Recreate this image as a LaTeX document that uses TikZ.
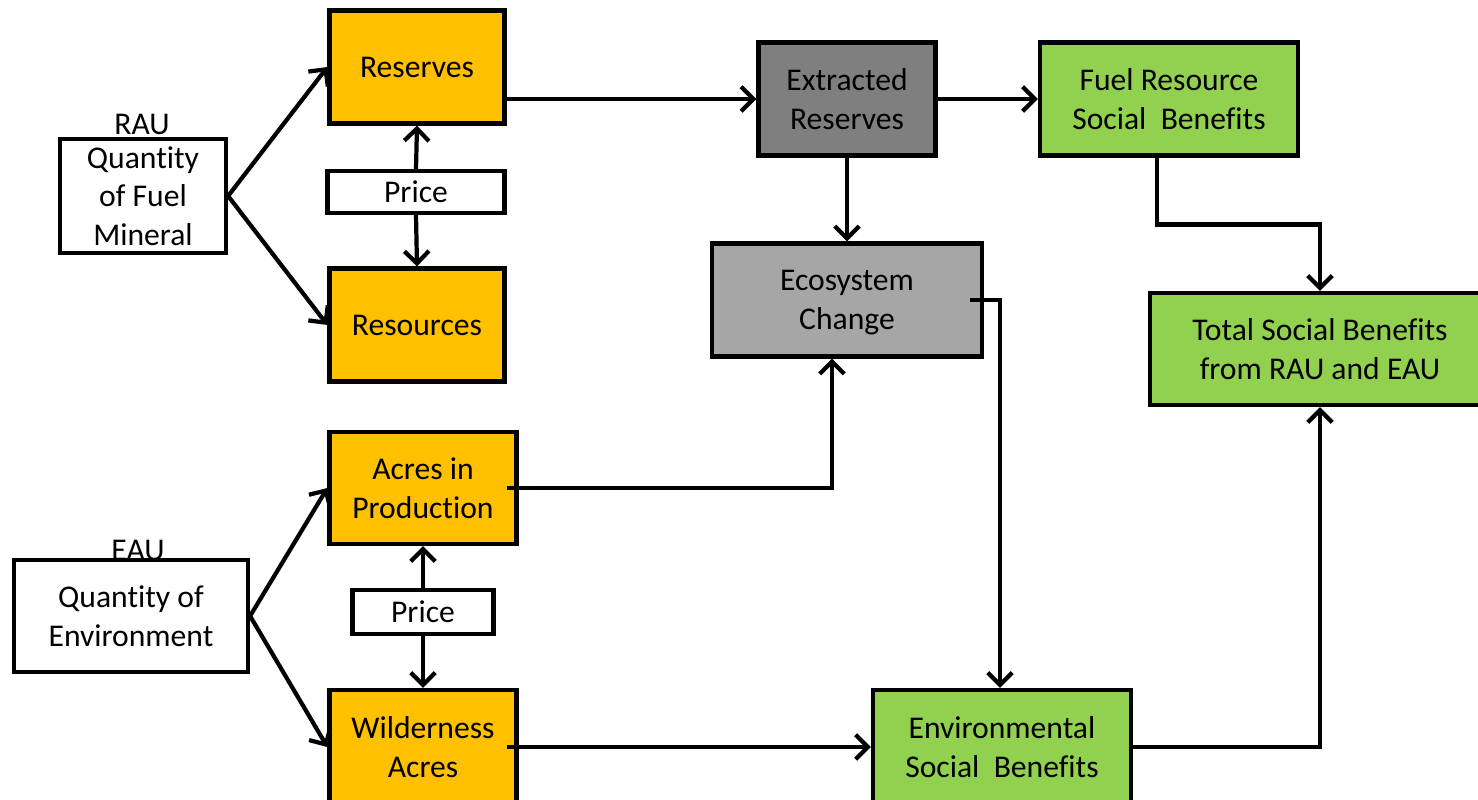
\documentclass[tikz,border=0pt]{standalone}
\usepackage{fontspec}
\setmainfont{Carlito}[RawFeature={-liga;-clig;-dlig;-calt}]
\usetikzlibrary{arrows.meta}
\begin{document}
\begin{tikzpicture}[x=0.02cm,y=-0.02cm,
    box/.style={draw, line width=2.4pt, align=center, inner sep=0pt, font=\fontsize{18}{22}\selectfont},
    unitlabel/.style={font=\fontsize{18}{22}\selectfont, inner sep=0pt},
    arr/.style={line width=2.4pt, -{Straight Barb[length=7pt,width=14pt]}}]
    % Define colors
    \definecolor{ambercol}{HTML}{FFC000}  % orange
    \definecolor{darkgrey}{HTML}{7F7F7F}
    \definecolor{lightgrey}{HTML}{A6A6A6}
    \definecolor{leafgreen}{HTML}{92D050}

    % Page frame
    \clip (0,0) rectangle (1478,800);

    % Resource side
    \node[box, fill=white, minimum width=3.32cm, minimum height=2.28cm] (rau) at (143,196) {Quantity\\of Fuel\\Mineral};
    \node[unitlabel] (raulabel) at (142,124) {RAU};
    \node[box, fill=ambercol, minimum width=3.5cm, minimum height=2.26cm] (reserves) at (417,67) {Reserves};
    \node[box, fill=white, minimum width=3.54cm, minimum height=0.84cm] (pricetop) at (416,192) {Price};
    \node[box, fill=ambercol, minimum width=3.5cm, minimum height=2.26cm] (resources) at (417,325) {Resources};

    % Environment side
    \node[box, fill=white, minimum width=4.68cm, minimum height=2.24cm] (eau) at (131,616) {Quantity of\\Environment};
    \node[unitlabel] (eaulabel) at (138,550) {EAU};
    \node[box, fill=ambercol, minimum width=3.74cm, minimum height=2.24cm] (acres) at (423,488) {Acres in\\Production};
    \node[box, fill=white, minimum width=2.82cm, minimum height=0.88cm] (pricebot) at (423,612) {Price};
    \node[box, fill=ambercol, minimum width=3.74cm, minimum height=2.28cm] (wild) at (423,747) {Wilderness\\Acres};

    % Outcomes
    \node[box, fill=darkgrey, minimum width=3.54cm, minimum height=2.26cm] (extracted) at (847,99) {Extracted\\Reserves};
    \node[box, fill=leafgreen, minimum width=5.16cm, minimum height=2.26cm] (fuel) at (1169,99) {Fuel Resource\\Social\ \ Benefits};
    \node[box, fill=lightgrey, minimum width=5.4cm, minimum height=2.26cm, text depth=-0.1cm] (eco) at (847,300) {Ecosystem\\Change};
    \node[box, fill=leafgreen, minimum width=6.8cm, minimum height=2.24cm] (total) at (1320,349) {Total Social Benefits\\from RAU and EAU};
    \node[box, fill=leafgreen, minimum width=5.16cm, minimum height=2.28cm] (env) at (1002,747) {Environmental\\Social\ \ Benefits};

    % Draw arrows
    \draw[arr] (rau.east) -- (reserves.west);
    \draw[arr] (rau.east) -- (resources.west);
    \draw[arr] (pricetop.north) -- (reserves.south);
    \draw[arr] (pricetop.south) -- (resources.north);
    \draw[arr] (eau.east) -- (acres.west);
    \draw[arr] (eau.east) -- (wild.west);
    \draw[arr] (pricebot.north) -- (acres.south);
    \draw[arr] (pricebot.south) -- (wild.north);
    \draw[arr] (reserves.east |- extracted.west) -- (extracted.west);
    \draw[arr] (extracted.east) -- (fuel.west);
    \draw[arr] (extracted.south) -- (eco.north);
    \draw[arr] ([xshift=-0.24cm]fuel.south) -- ++(0,67) -| (total.north);
    \draw[arr] ([xshift=-0.28cm]eco.east) -| ([xshift=-0.04cm]env.north);
    \draw[arr] ([xshift=-0.24cm]acres.east) -| ([xshift=-0.3cm]eco.south);
    \draw[arr] ([xshift=-0.24cm]wild.east) -- (env.west);
    \draw[arr] (env.east) -| (total.south);
\end{tikzpicture}
\end{document}
